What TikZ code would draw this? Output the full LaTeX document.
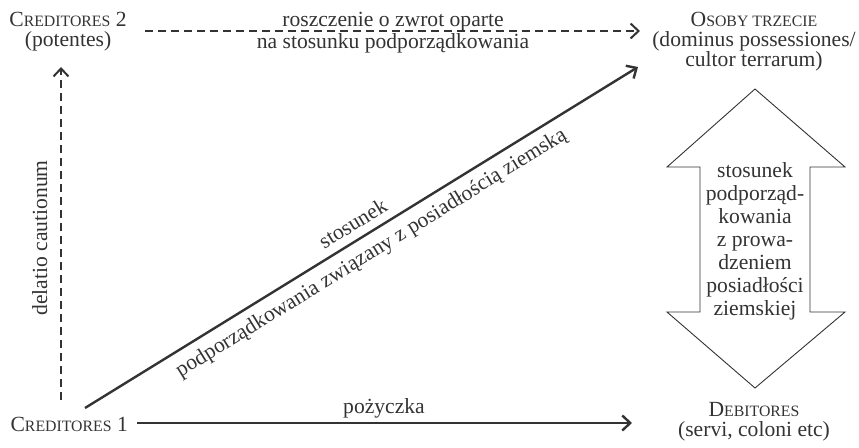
\documentclass[tikz,border=0pt]{standalone}
\usepackage{fontspec}
\setmainfont{Liberation Serif}
\usetikzlibrary{arrows.meta}
\definecolor{ink}{HTML}{333333}
\newcommand{\smc}[2]{#1{\fontsize{15.8}{18}\selectfont #2}}
\begin{document}
\begin{tikzpicture}[x=1pt,y=-1pt,
  font=\fontsize{21.6}{20}\selectfont, text=ink,
  lbl/.style={align=center, inner sep=0pt},
  conn/.style={draw=ink, line width=2.4pt, -{Straight Barb[length=8pt,width=15pt]}},
  dconn/.style={conn, line width=2pt, dash pattern=on 8pt off 5pt},
  bigarrow/.style={draw=ink, line width=0.9pt, line join=miter}]
\useasboundingbox (0,0) rectangle (859,447);

% entities
\node[lbl, anchor=north] (c2) at (68,12) {\smc{C}{REDITORES} 2\\(potentes)};
\node[lbl, anchor=north] (ot) at (754,12) {\smc{O}{SOBY TRZECIE}\\(dominus possessiones/\\cultor terrarum)};
\node[lbl, anchor=base east] (c1) at (128,431) {\smc{C}{REDITORES} 1};
\node[lbl, anchor=north] (db) at (754,402) {\smc{D}{EBITORES}\\(servi, coloni etc)};

% connector end points
\coordinate (topS) at (145,31);
\coordinate (topE) at (640,31);
\coordinate (vS) at (61,400);
\coordinate (vE) at (61,67);
\coordinate (dS) at (85,408);
\coordinate (dE) at (638,67);
\coordinate (bS) at (137,423);
\coordinate (bE) at (632,423);

% top dashed arrow
\draw[dconn] (topS) -- (topE);
\node[lbl, anchor=base] (lt1) at (393,26) {roszczenie o zwrot oparte};
\node[lbl, anchor=base] (lt2) at (393,48) {na stosunku podporządkowania};

% vertical dashed arrow
\draw[dconn] (vS) -- (vE);
\node[lbl, anchor=base, rotate=90] (lv) at (47,238) {delatio cautionum};

% diagonal arrow
\draw[conn] (dS) -- node[midway, sloped, above=8pt, inner sep=0pt] (ld1) {stosunek}
  node[midway, sloped, below=8pt, inner sep=0pt] (ld2) {podporządkowania związany z posiadłością ziemską} (dE);

% bottom arrow
\draw[conn] (bS) -- (bE);
\node[lbl, anchor=base] (lb) at (384,413) {pożyczka};

% double arrow
\draw[bigarrow] (755,89) -- (845,167) -- (810,167) -- (810,312) -- (845,312)
  -- (755,388) -- (667,312) -- (700,312) -- (700,167) -- (667,167) -- cycle;
\node[lbl, anchor=north, font=\fontsize{21.6}{23}\selectfont] (da) at (755,162)
  {stosunek\\podporząd-\\kowania\\z prowa-\\dzeniem\\posiadłości\\ziemskiej};
\end{tikzpicture}
\end{document}
